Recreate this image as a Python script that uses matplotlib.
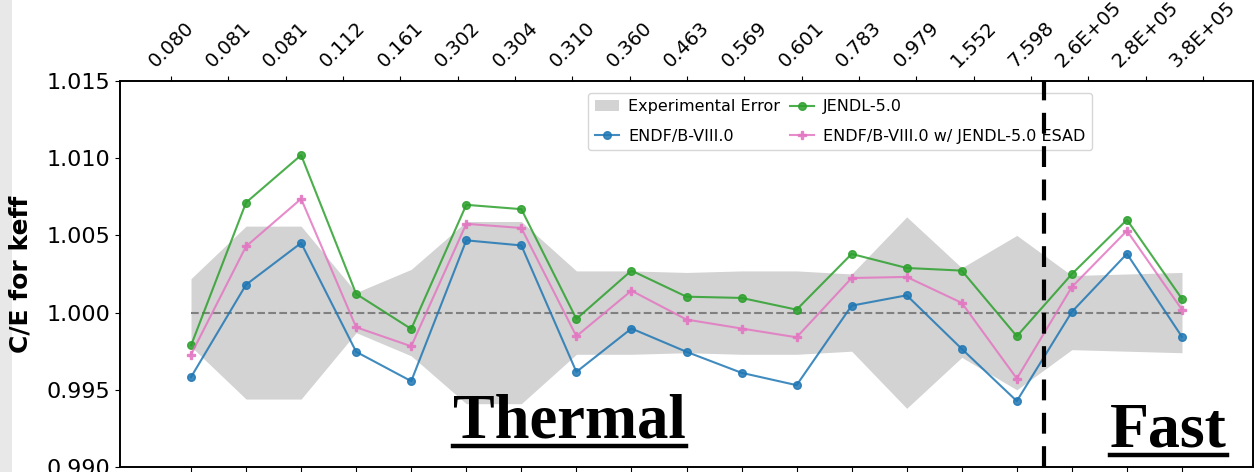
import numpy as np
import matplotlib
matplotlib.use("Agg")
import matplotlib.pyplot as plt
from matplotlib.lines import Line2D
from matplotlib.patches import Rectangle

plt.rcParams["font.family"] = ["DejaVu Sans"]

# energy of each benchmark (top axis labels)
energy_labels = ["0.080", "0.081", "0.081", "0.112", "0.161", "0.302", "0.304",
                 "0.310", "0.360", "0.463", "0.569", "0.601", "0.783", "0.979",
                 "1.552", "7.598", "2.6E+05", "2.8E+05", "3.8E+05"]

# C/E for keff
endf8 = [0.99582, 1.00181, 1.00451, 0.99746, 0.99556, 1.00468, 1.00435,
         0.99616, 0.99897, 0.99746, 0.99610, 0.99530, 1.00045, 1.00112,
         0.99765, 0.99427, 1.00005, 1.00381, 0.99843]
jendl5 = [0.99787, 1.00713, 1.01020, 1.00121, 0.99894, 1.00698, 1.00670,
          0.99959, 1.00272, 1.00103, 1.00095, 1.00019, 1.00380, 1.00289,
          1.00272, 0.99847, 1.00250, 1.00601, 1.00089]
endf8_esad = [0.99728, 1.00429, 1.00737, 0.99905, 0.99782, 1.00575, 1.00548,
              0.99847, 1.00142, 0.99955, 0.99897, 0.99840, 1.00224, 1.00231,
              1.00063, 0.99573, 1.00166, 1.00530, 1.00019]
exp_err = [0.0022, 0.0056, 0.0056, 0.0013, 0.0028, 0.0059, 0.0059, 0.0027,
           0.0027, 0.0026, 0.0027, 0.0027, 0.0025, 0.0062, 0.0029, 0.0050,
           0.0024, 0.0025, 0.0026]

x = np.arange(len(energy_labels))
exp_err = np.array(exp_err)

fig = plt.figure(figsize=(12.6, 4.72), dpi=100)
fig.patches.append(Rectangle((0, 0), 12 / 1260, 1, transform=fig.transFigure,
                             facecolor="#e8e8e8", edgecolor="none", zorder=-1))
ax = fig.add_axes([120 / 1260, 5 / 472, 1133 / 1260, 386 / 472])

ax.fill_between(x, 1 - exp_err, 1 + exp_err, color="lightgray", lw=0,
                label="Experimental Error")
ax.plot(x, endf8, "o-", color="tab:blue", ms=5.5, lw=1.5, alpha=0.85,
        label="ENDF/B-VIII.0")
ax.plot(x, jendl5, "o-", color="tab:green", ms=5.5, lw=1.5, alpha=0.85,
        label="JENDL-5.0")
ax.plot(x, endf8_esad, "P-", color="tab:pink", ms=6, lw=1.5, alpha=0.85,
        label="ENDF/B-VIII.0 w/ JENDL-5.0 ESAD")
ax.plot([x[0], x[-1]], [1.0, 1.0], "--", color="gray", lw=1.5, zorder=1.5)
ax.axvline(15.5, color="black", lw=3, dashes=(5, 3), zorder=6)

ax.set_xlim(-1.29, 19.29)
ax.set_ylim(0.990, 1.015)
ax.set_xticks(x)
ax.set_xticklabels([])
ax.set_yticks([0.990, 0.995, 1.000, 1.005, 1.010, 1.015])
ax.tick_params(axis="y", labelsize=16)
ax.set_ylabel("C/E for keff", fontsize=18, fontweight="bold")
ax.yaxis.set_label_coords(-0.077, 0.5)

ax.legend(loc="upper right", bbox_to_anchor=(0.858, 0.969), borderaxespad=0,
          ncol=2, fontsize=11.5, columnspacing=0.6, handlelength=1.5,
          handletextpad=0.6, labelspacing=0.9)

# top axis carries the energy labels
ax2 = ax.twiny()
ax2.set_xlim(-0.89, 18.873)
ax2.set_xticks(x)
ax2.set_xticklabels(energy_labels, rotation=45, fontsize=14)
ax2.set_xlabel("Energy (eV)", fontsize=14)
ax2.xaxis.set_label_coords(0.5, 1.23)

for a in (ax, ax2):
    for s in a.spines.values():
        s.set_linewidth(1.2)

t1 = ax.text(4.76, 0.99192, "Thermal", family="Liberation Serif",
             fontweight="bold", fontsize=45, ha="left", va="baseline")
t2 = ax.text(16.69, 0.99134, "Fast", family="Liberation Serif",
             fontweight="bold", fontsize=46, ha="left", va="baseline")

# underline both region labels
fig.canvas.draw()
for t in (t1, t2):
    bb = t.get_window_extent()
    base = ax.transData.transform(t.get_position())[1] - 9
    p0 = fig.transFigure.inverted().transform((bb.x0, base))
    p1 = fig.transFigure.inverted().transform((bb.x1, base))
    fig.lines.append(Line2D([p0[0], p1[0]], [p0[1], p1[1]], color="black",
                            lw=3.2, transform=fig.transFigure))

fig.savefig("out.png", dpi=100)
